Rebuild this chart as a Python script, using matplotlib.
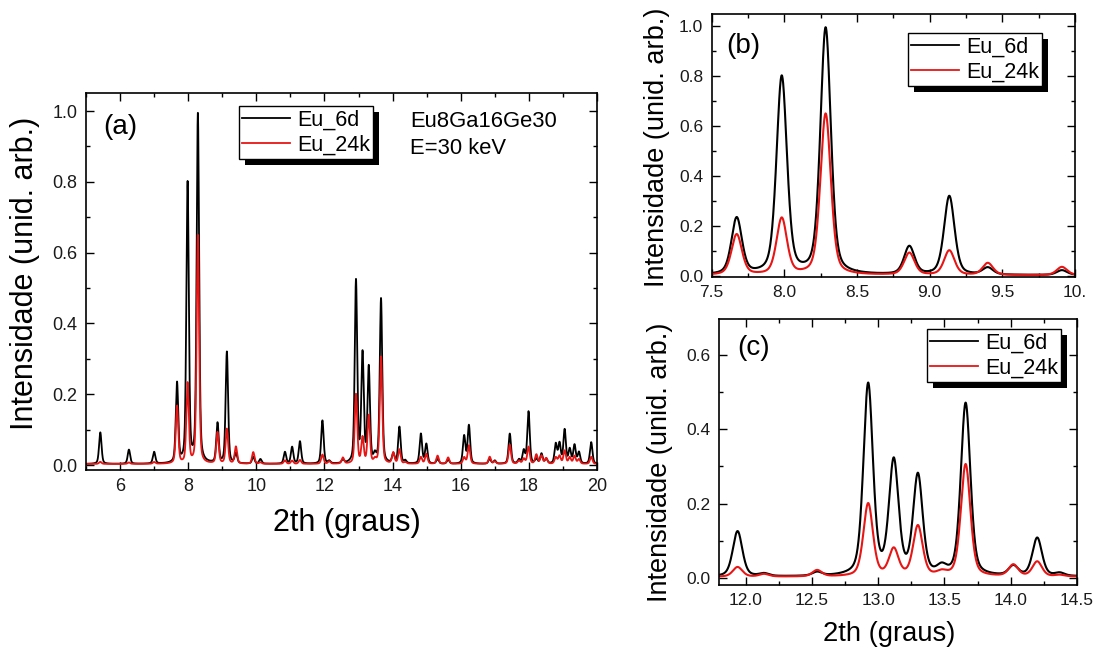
import numpy as np
import matplotlib
matplotlib.use("Agg")
import matplotlib.pyplot as plt
from matplotlib.ticker import MultipleLocator, FormatStrFormatter, FixedLocator, FixedFormatter
from matplotlib.patches import Rectangle
from matplotlib.transforms import IdentityTransform

plt.rcParams['font.family'] = ['Liberation Sans', 'DejaVu Sans']

# Reflection positions (2theta, degrees) and peak intensities of both samples
peak_pos = [5.42, 6.26, 7.00, 7.672, 7.982, 8.284, 8.86, 9.135, 9.40, 9.91,
            10.12, 10.84, 11.05, 11.28, 11.94, 12.14, 12.54, 12.925, 13.118, 13.30,
            13.48, 13.66, 14.02, 14.20, 14.37, 14.83, 14.99, 15.32, 15.63, 16.10,
            16.24, 16.85, 17.00, 17.44, 17.71, 17.85, 17.99, 18.22, 18.37, 18.51,
            18.79, 18.90, 19.05, 19.20, 19.34, 19.47, 19.83]
int_6d = [0.089, 0.040, 0.033, 0.225, 0.79, 0.985, 0.112, 0.315, 0.028, 0.019,
          0.013, 0.033, 0.047, 0.063, 0.122, 0.007, 0.010, 0.515, 0.305, 0.268,
          0.020, 0.465, 0.026, 0.103, 0.008, 0.084, 0.055, 0.013, 0.011, 0.078,
          0.108, 0.014, 0.009, 0.085, 0.011, 0.036, 0.147, 0.013, 0.028, 0.013,
          0.055, 0.056, 0.095, 0.040, 0.052, 0.032, 0.061]
int_24k = [0.006, 0.004, 0.005, 0.162, 0.225, 0.645, 0.088, 0.098, 0.048, 0.033,
           0.004, 0.010, 0.009, 0.011, 0.026, 0.007, 0.017, 0.196, 0.072, 0.135,
           0.010, 0.302, 0.031, 0.040, 0.004, 0.019, 0.028, 0.023, 0.018, 0.018,
           0.052, 0.020, 0.007, 0.054, 0.009, 0.014, 0.048, 0.026, 0.023, 0.016,
           0.018, 0.022, 0.037, 0.018, 0.022, 0.013, 0.020]

series_names = ['Eu_6d', 'Eu_24k']
series_colors = ['#000000', '#e81515']

FWHM = 0.085
ETA = 0.4
BASE = 0.003


def pattern(x, positions, heights):
    """Pseudo-Voigt sum of the listed reflections."""
    y = np.full_like(x, BASE)
    hw = FWHM / 2.0
    for p, h in zip(positions, heights):
        d = (x - p) / hw
        y += h * (ETA / (1 + d ** 2) + (1 - ETA) * np.exp(-np.log(2) * d ** 2))
    return y


two_theta = np.linspace(5.0, 20.0, 9001)
curves = [pattern(two_theta, peak_pos, int_6d), pattern(two_theta, peak_pos, int_24k)]

W, H = 1097, 649
fig = plt.figure(figsize=(W / 100, H / 100), dpi=100)


def px_axes(left, top, right, bottom):
    return fig.add_axes([left / W, 1 - bottom / H, (right - left) / W, (bottom - top) / H])


ax_a = px_axes(86, 93, 597, 470)
ax_b = px_axes(711.7, 14, 1075, 277)
ax_c = px_axes(719, 319, 1077, 585)


def style(ax, tick_size):
    for s in ax.spines.values():
        s.set_linewidth(1.2)
    ax.tick_params(which='both', direction='in', top=True, right=True,
                   labelsize=tick_size, labelcolor='#1a1a1a', width=1.0)
    ax.tick_params(which='major', length=6, pad=6)
    ax.tick_params(which='minor', length=3)
    ax.yaxis.set_major_locator(MultipleLocator(0.2))
    ax.yaxis.set_minor_locator(MultipleLocator(0.1))
    ax.yaxis.set_major_formatter(FormatStrFormatter('%.1f'))


for ax, lw in [(ax_a, 1.3), (ax_b, 1.5), (ax_c, 1.5)]:
    for yv, name, col in zip(curves, series_names, series_colors):
        ax.plot(two_theta, yv, color=col, lw=lw, label=name)

# (a) full pattern
style(ax_a, 13)
ax_a.set_xlim(5, 20)
ax_a.set_ylim(-0.014, 1.051)
ax_a.xaxis.set_minor_locator(MultipleLocator(1))
ax_a.set_xticks([6, 8, 10, 12, 14, 16, 18, 20])
ax_a.set_ylabel('Intensidade (unid. arb.)', fontsize=22, va='center')
ax_a.yaxis.set_label_coords(-0.119, 0.5225)
ax_a.set_xlabel('2th (graus)', fontsize=22, va='center')
ax_a.xaxis.set_label_coords(0.51, -0.1406)

# (b) low-angle detail
style(ax_b, 12.5)
ax_b.set_xlim(7.5, 10.0)
ax_b.set_ylim(-0.004, 1.048)
ax_b.xaxis.set_major_locator(FixedLocator([7.5, 8.0, 8.5, 9.0, 9.5, 10.0]))
ax_b.xaxis.set_major_formatter(FixedFormatter(['7.5', '8.0', '8.5', '9.0', '9.5', '10.']))
ax_b.xaxis.set_minor_locator(MultipleLocator(0.25))
ax_b.set_ylabel('Intensidade (unid. arb.)', fontsize=19.5, va='center')
ax_b.yaxis.set_label_coords(-0.1506, 0.494)

# (c) 12-14.5 degree detail
style(ax_c, 12.5)
ax_c.set_xlim(11.8, 14.5)
ax_c.set_ylim(-0.019, 0.697)
ax_c.xaxis.set_major_locator(MultipleLocator(0.5))
ax_c.xaxis.set_minor_locator(MultipleLocator(0.25))
ax_c.xaxis.set_major_formatter(FormatStrFormatter('%.1f'))
ax_c.set_ylabel('Intensidade (unid. arb.)', fontsize=19.5, va='center')
ax_c.yaxis.set_label_coords(-0.165, 0.4605)
ax_c.set_xlabel('2th (graus)', fontsize=19.7, va='center')
ax_c.xaxis.set_label_coords(0.475, -0.184)


def ftext(x, y, s, **kw):
    fig.text(x / W, 1 - y / H, s, **kw)


ftext(103, 127, '(a)', fontsize=20, va='center')
ftext(726, 46, '(b)', fontsize=20, va='center')
ftext(737, 348, '(c)', fontsize=20, va='center')
ftext(410, 111, 'Eu8Ga16Ge30\nE=30 keV', fontsize=15.8, va='top', linespacing=1.35)

legends = []
for ax, (lx, ty) in [(ax_a, (239, 106)), (ax_b, (908, 33)), (ax_c, (927, 329))]:
    leg = ax.legend(loc='upper left', bbox_to_anchor=(lx / W, 1 - ty / H),
                    bbox_transform=fig.transFigure, borderaxespad=0,
                    fontsize=15.5, handlelength=2.2, handletextpad=0.35,
                    borderpad=0.15, labelspacing=0.2, fancybox=False,
                    framealpha=1, edgecolor='black')
    leg.get_frame().set_linewidth(1.0)
    for ln in leg.get_lines():
        ln.set_linewidth(1.3)
    legends.append((ax, leg))

# solid drop shadow behind each legend box
fig.canvas.draw()
for ax, leg in legends:
    bb = leg.get_frame().get_window_extent()
    sh = Rectangle((bb.x0 + 6, bb.y0 - 6), bb.width, bb.height,
                   transform=IdentityTransform(), facecolor='black',
                   edgecolor='none', zorder=leg.get_zorder() - 0.1, clip_on=False)
    ax.add_artist(sh)

fig.savefig('out.png', dpi=100)
